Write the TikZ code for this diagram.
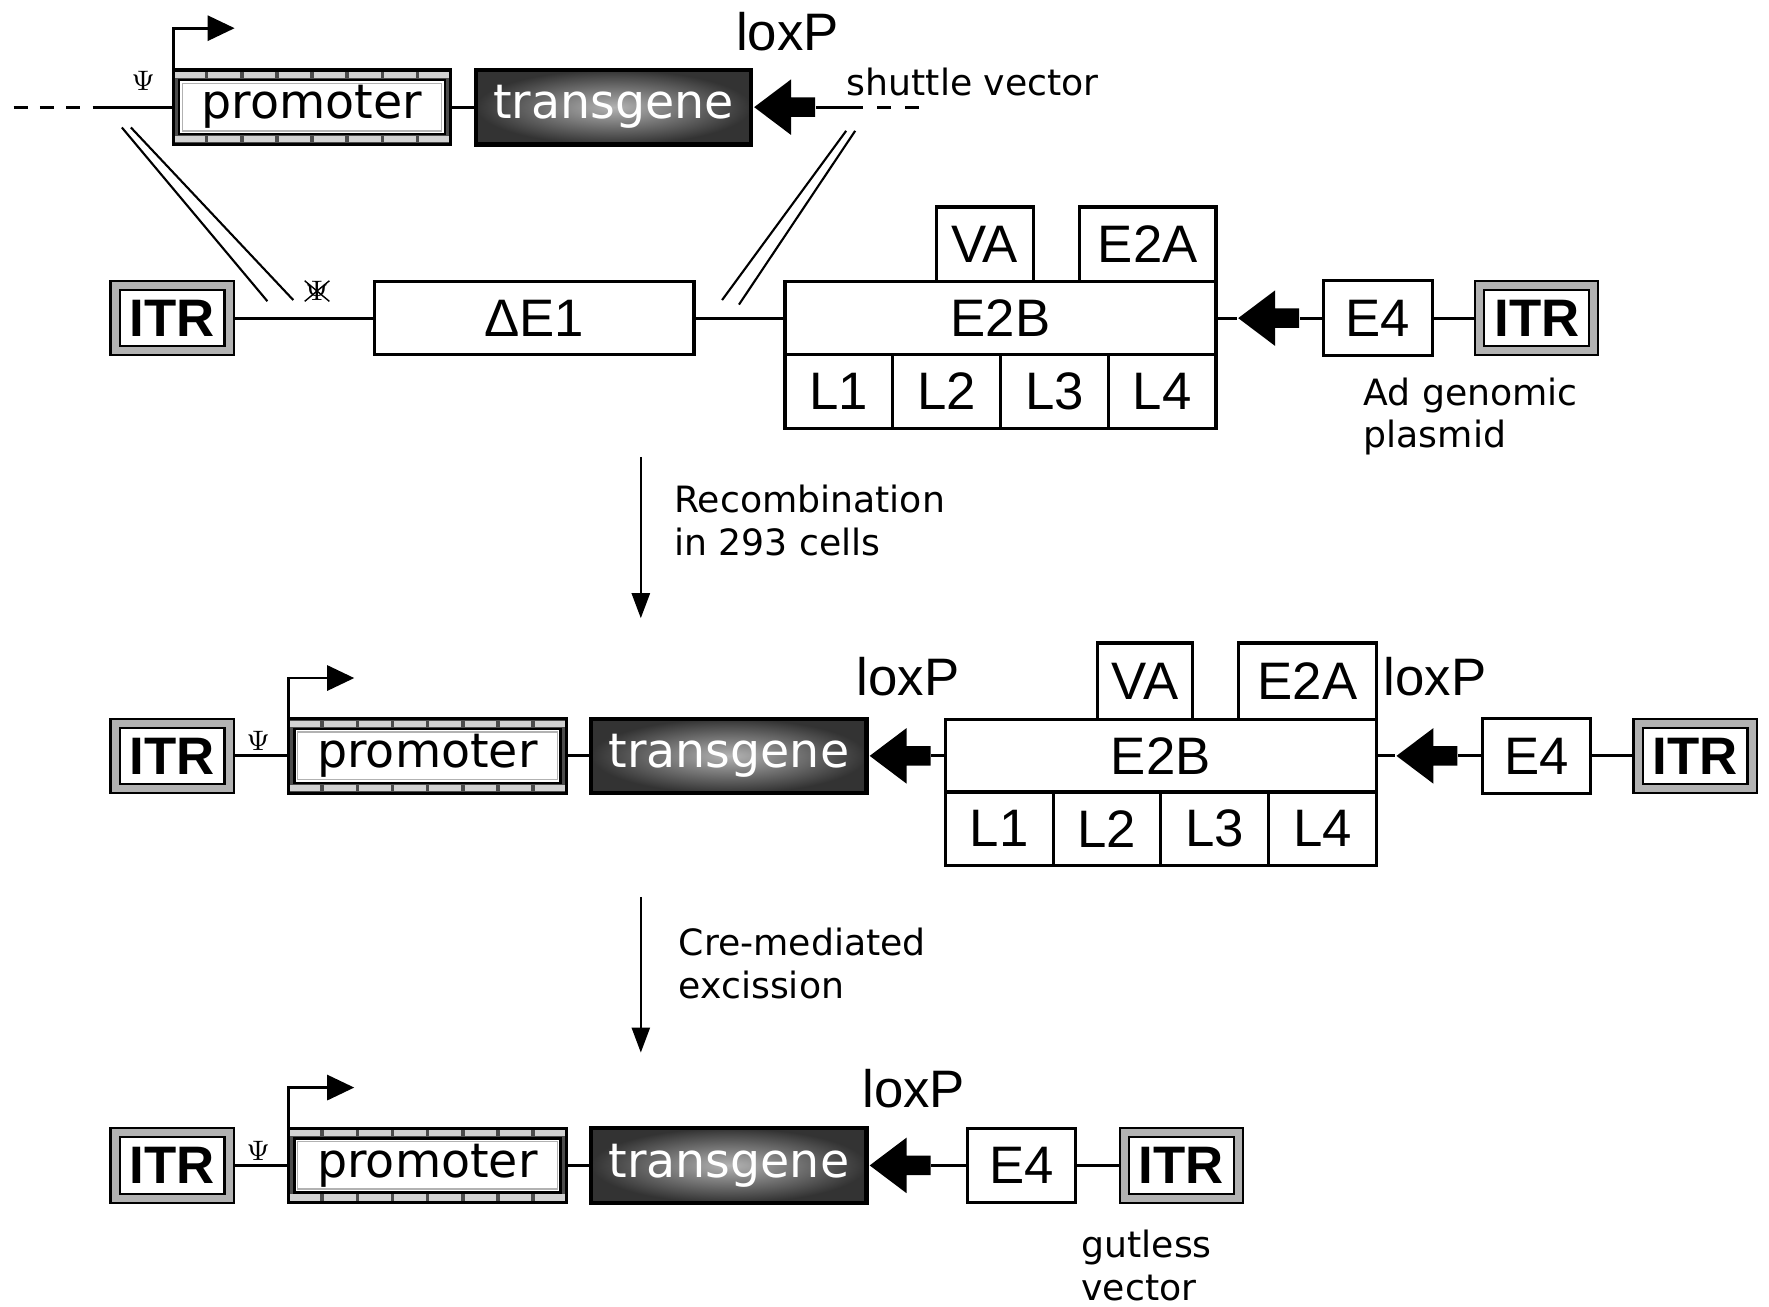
\documentclass[tikz,border=0pt]{standalone}
\usepackage{fontspec}
\setmainfont{DejaVu Sans}
\newfontfamily\genefont{Liberation Sans}
\usepackage{tikz}
\usetikzlibrary{shapes.arrows,shapes.misc,arrows.meta,positioning,calc}

\newlength{\dpx}
\setlength{\dpx}{0.01128cm}

\tikzset{
  link/.style={line width=0.8pt},
  homology/.style={line width=0.6pt},
  genebox/.style={rectangle, draw, line width=0.9pt, fill=white, inner sep=0pt, outer sep=0pt,
    font=\genefont\fontsize{15}{18}\selectfont},
  lbox/.style={genebox, minimum width=95.5\dpx, minimum height=65\dpx},
  e4box/.style={genebox, minimum width=96\dpx, minimum height=66\dpx},
  itrbox/.style={rectangle, draw=black, line width=0.6pt, double=gray!60, double distance=2pt,
    fill=white, minimum width=101\dpx, minimum height=58\dpx, inner sep=0pt, outer sep=5\dpx,
    font=\genefont\bfseries\fontsize{15}{18}\selectfont},
  promoterbox/.style={rectangle, draw, line width=0.9pt, fill=black!70, minimum width=246\dpx,
    minimum height=66\dpx, inner sep=0pt, outer sep=0pt, font=\fontsize{13.5}{16}\selectfont,
    path picture={
      \draw[gray!35, line width=1.8pt, dash pattern=on 9pt off 1pt]
        ([yshift=-4.5\dpx]path picture bounding box.north west) -- ([yshift=-4.5\dpx]path picture bounding box.north east)
        ([yshift=4.5\dpx]path picture bounding box.south west) -- ([yshift=4.5\dpx]path picture bounding box.south east);
      \filldraw[fill=white, draw=black, line width=0.7pt]
        ([shift={(5\dpx,-9\dpx)}]path picture bounding box.north west) rectangle ([shift={(-5\dpx,9\dpx)}]path picture bounding box.south east);
      \draw[gray!60, line width=0.4pt]
        ([shift={(8\dpx,-12\dpx)}]path picture bounding box.north west) rectangle ([shift={(-8\dpx,12\dpx)}]path picture bounding box.south east);
    }},
  transbox/.style={rectangle, draw=black, line width=1.2pt, inner color=gray!60, outer color=black!80,
    minimum width=244\dpx, minimum height=66\dpx, inner sep=0pt, outer sep=0pt, text=white,
    font=\fontsize{13.5}{16}\selectfont},
  loxarrow/.style={single arrow, fill=black, shape border rotate=180, minimum height=54\dpx,
    inner xsep=0pt, inner ysep=8\dpx, single arrow head extend=16\dpx, single arrow tip angle=74},
  loxlabel/.style={font=\genefont\fontsize{15}{18}\selectfont, inner sep=0pt},
  note/.style={font=\fontsize{10.3}{12.2}\selectfont, align=left, inner sep=0pt},
  psilabel/.style={font=\fontsize{8}{8}\selectfont, inner sep=0pt},
  tss/.style={line width=0.8pt, -{Triangle[length=0.27cm, width=0.25cm]}},
  stepdown/.style={line width=0.7pt, -{Triangle[length=0.25cm, width=0.18cm]}}
}

\begin{document}
\begin{tikzpicture}[x=\dpx, y=-\dpx]
  \useasboundingbox (0,0) rectangle (1568,1158);

  % shuttle vector
  \node[promoterbox] (svprom) at (276.5,95) {promoter};
  \node[transbox, right=0.25cm of svprom] (svtrans) {transgene};
  \node[loxarrow, right=0.02cm of svtrans, anchor=tip] (svarr) {};
  \node[loxlabel] (svlox) at (698,28) {loxP};
  \node[note, anchor=west] (svnote) at (750,73) {shuttle vector};
  \node[psilabel] (svpsi) at (127,72) {$\Psi$};
  \coordinate (sv-l) at (12,95);
  \coordinate (sv-m) at (85,95);
  \coordinate (sv-r) at (765,95);
  \coordinate (sv-e) at (822,95);
  \coordinate (sv-tss) at (208,25);

  \draw[link, dash pattern=on 4pt off 3.5pt] (sv-l) -- (sv-m);
  \draw[link] (sv-m) -- (svprom.west);
  \draw[link] (svprom) -- (svtrans);
  \draw[link] (svarr.tail) -- (sv-r);
  \draw[link, dash pattern=on 4pt off 4pt, dash phase=4pt] (sv-r) -- (sv-e);
  \draw[tss] (svprom.west) |- (sv-tss);

  % homologous arms
  \draw[homology] (108,113) -- (237,267);
  \draw[homology] (116,113) -- (260,266);
  \draw[homology] (750,116) -- (640,266);
  \draw[homology] (758,116) -- (655,270);
  \node[psilabel, cross out, draw, line width=0.4pt] (psidel) at (281,258) {$\Psi$};

  % Ad genomic plasmid
  \node[itrbox] (itrp1) at (152.5,282) {ITR};
  \node[genebox, minimum width=283\dpx, minimum height=65\dpx, right=1.40cm of itrp1] (de1) {ΔE1};
  \node[genebox, minimum width=382\dpx, minimum height=65\dpx, right=0.91cm of de1] (e2bp) {E2B};
  \node[genebox, minimum width=86\dpx, minimum height=66\dpx, anchor=south west] (vap) at ([xshift=134\dpx]e2bp.north west) {VA};
  \node[genebox, minimum width=121\dpx, minimum height=66\dpx, anchor=south east] (e2ap) at (e2bp.north east) {E2A};
  \node[lbox, anchor=north west] (l1p) at (e2bp.south west) {L1};
  \node[lbox, right=0pt of l1p] (l2p) {L2};
  \node[lbox, right=0pt of l2p] (l3p) {L3};
  \node[lbox, right=0pt of l3p] (l4p) {L4};
  \node[loxarrow, right=0.21cm of e2bp, anchor=tip] (arrp) {};
  \node[e4box, right=0.24cm of arrp.tail] (e4p) {E4};
  \node[itrbox, right=0.42cm of e4p] (itrp2) {ITR};
  \node[note, anchor=north west] (adnote) at (1208,334) {Ad genomic\\plasmid};

  \draw[link] (itrp1) -- (de1);
  \draw[link] (de1) -- (e2bp);
  \draw[link] (e2bp.east) -- (arrp.tip);
  \draw[link] (arrp.tail) -- (e4p);
  \draw[link] (e4p) -- (itrp2);

  \coordinate (rec-a) at (568,405);
  \coordinate (rec-b) at (568,548);
  \draw[stepdown] (rec-a) -- (rec-b);
  \node[note, anchor=west] (recnote) at (597,461) {Recombination\\in 293 cells};

  % recombinant
  \node[itrbox] (itrr1) at (152.5,670) {ITR};
  \node[promoterbox, right=0.54cm of itrr1] (promr) {promoter};
  \node[transbox, right=0.25cm of promr] (transr) {transgene};
  \node[loxarrow, right=0.02cm of transr, anchor=tip] (arrr1) {};
  \node[genebox, minimum width=382\dpx, minimum height=64\dpx, right=0.14cm of arrr1.tail] (e2br) {E2B};
  \node[genebox, minimum width=84\dpx, minimum height=68\dpx, anchor=south west] (var) at ([xshift=135\dpx]e2br.north west) {VA};
  \node[genebox, minimum width=122\dpx, minimum height=68\dpx, anchor=south east] (e2ar) at (e2br.north east) {E2A};
  \node[lbox, anchor=north west] (l1r) at (e2br.south west) {L1};
  \node[lbox, right=0pt of l1r] (l2r) {L2};
  \node[lbox, right=0pt of l2r] (l3r) {L3};
  \node[lbox, right=0pt of l3r] (l4r) {L4};
  \node[loxarrow, right=0.19cm of e2br, anchor=tip] (arrr2) {};
  \node[e4box, right=0.24cm of arrr2.tail] (e4r) {E4};
  \node[itrbox, right=0.42cm of e4r] (itrr2) {ITR};
  \node[psilabel] (psir) at (229,657) {$\Psi$};
  \node[loxlabel] (loxr1) at (805,600) {loxP};
  \node[loxlabel] (loxr2) at (1272,600) {loxP};
  \coordinate (tssr) at (314,601);

  \draw[link] (itrr1) -- (promr);
  \draw[link] (promr) -- (transr);
  \draw[link] (arrr1.tail) -- (e2br);
  \draw[link] (e2br.east) -- (arrr2.tip);
  \draw[link] (arrr2.tail) -- (e4r);
  \draw[link] (e4r) -- (itrr2);
  \draw[tss] (promr.west) |- (tssr);

  \coordinate (cre-a) at (568,795);
  \coordinate (cre-b) at (568,933);
  \draw[stepdown] (cre-a) -- (cre-b);
  \node[note, anchor=west] (crenote) at (601,854) {Cre-mediated\\excission};

  % gutless vector
  \node[itrbox] (itrg1) at (152.5,1033) {ITR};
  \node[promoterbox, right=0.54cm of itrg1] (promg) {promoter};
  \node[transbox, right=0.25cm of promg] (transg) {transgene};
  \node[loxarrow, right=0.02cm of transg, anchor=tip] (arrg) {};
  \node[e4box, right=0.36cm of arrg.tail] (e4g) {E4};
  \node[itrbox, right=0.43cm of e4g] (itrg2) {ITR};
  \node[psilabel] (psig) at (229,1020) {$\Psi$};
  \node[loxlabel] (loxg) at (810,965) {loxP};
  \node[note, anchor=north west] (gutnote) at (958,1090) {gutless\\vector};
  \coordinate (tssg) at (314,964);

  \draw[link] (itrg1) -- (promg);
  \draw[link] (promg) -- (transg);
  \draw[link] (arrg.tail) -- (e4g);
  \draw[link] (e4g) -- (itrg2);
  \draw[tss] (promg.west) |- (tssg);
\end{tikzpicture}
\end{document}
